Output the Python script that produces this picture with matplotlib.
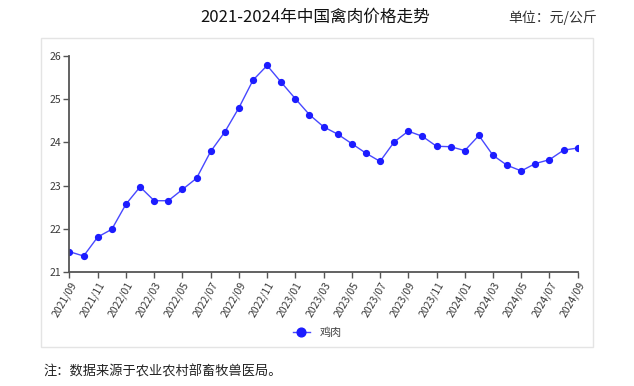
import matplotlib.pyplot as plt
from matplotlib.patches import Rectangle

plt.rcParams['font.family'] = ['Noto Sans CJK SC', 'DejaVu Sans']

months = []
for y in range(2021, 2025):
    for m in range(1, 13):
        if (y, m) >= (2021, 9) and (y, m) <= (2024, 9):
            months.append(f"{y}/{m:02d}")

chicken = [21.47, 21.37, 21.81, 21.99, 22.57, 22.97, 22.65, 22.65, 22.91, 23.17,
           23.79, 24.24, 24.80, 25.44, 25.78, 25.39, 25.01, 24.64, 24.36, 24.19,
           23.97, 23.75, 23.56, 24.01, 24.26, 24.14, 23.91, 23.90, 23.81, 24.16,
           23.70, 23.47, 23.34, 23.51, 23.60, 23.82, 23.87]

title = "2021-2024年中国禽肉价格走势"
unit = "单位：元/公斤"
note = "注：数据来源于农业农村部畜牧兽医局。"
series_name = "鸡肉"

fig = plt.figure(figsize=(6.34, 3.86), dpi=100)
fig.patch.set_facecolor("white")

# light frame around chart area
fig.patches.append(Rectangle((0.0647, 0.101), 0.8707, 0.8005, transform=fig.transFigure,
                             fill=False, edgecolor="#e4e4e4", linewidth=1.0))

ax = fig.add_axes([0.1096, 0.2953, 0.8016, 0.5597])
x = list(range(len(months)))
ax.plot(x, chicken, color="#4848ff", linewidth=1.0, marker="o", markersize=4.2,
        markerfacecolor="#1c1cff", markeredgecolor="#1c1cff", label=series_name)

ax.set_xlim(0, len(months) - 1)
ax.set_ylim(21, 26)
ax.set_yticks([21, 22, 23, 24, 25, 26])
ax.set_xticks(x[::2])
ax.set_xticklabels(months[::2], rotation=60, ha="right", rotation_mode="anchor")

for s in ["top", "right"]:
    ax.spines[s].set_visible(False)
for s in ["left", "bottom"]:
    ax.spines[s].set_color("#555555")
    ax.spines[s].set_linewidth(1.3)
ax.tick_params(axis="both", colors="#555555", labelcolor="#3a3a3a", labelsize=7.5,
               length=4, width=1, pad=2)

fig.text(0.497, 0.955, title, ha="center", va="center", fontsize=12, color="#111111",
         fontweight="light")
fig.text(0.942, 0.955, unit, ha="right", va="center", fontsize=10, color="#333333")
fig.text(0.068, 0.036, note, ha="left", va="center", fontsize=9.5, color="#222222")

fig.legend(loc="center", bbox_to_anchor=(0.5, 0.138), frameon=False, fontsize=8,
           handlelength=1.6, markerscale=1.5, labelcolor="#444444")

fig.savefig("out.png", dpi=100)
